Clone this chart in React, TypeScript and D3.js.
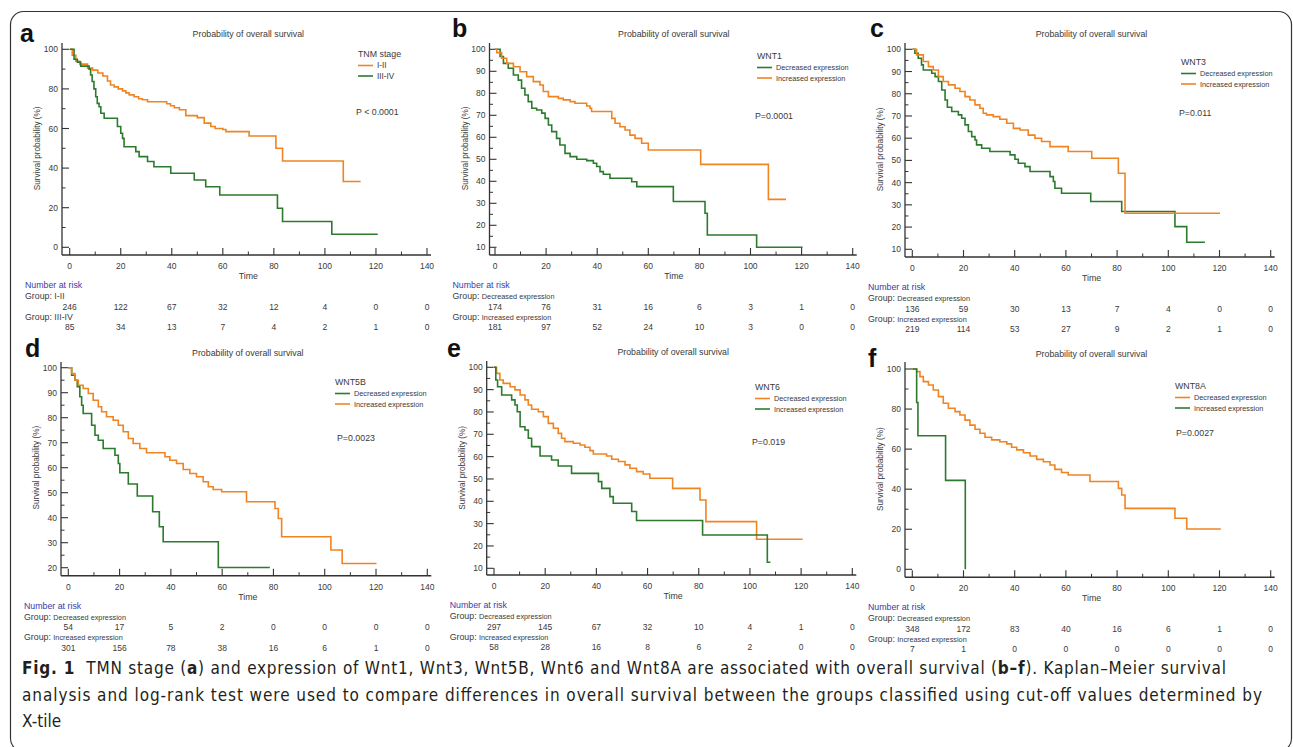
import React, { useEffect, useRef } from "react";
import * as d3 from "d3";

type Pt = [number, number];

const ORANGE = "#f08423";
const GREEN = "#2c7a2e";

const timeTicks = [0, 20, 40, 60, 80, 100, 120, 140];

// a - TNM stage
const tnmI_II: Pt[] = [[0,100],[1,97],[2.4,94],[4,92.5],[7,90.5],[9,89.5],[11,88],[13,86.5],[14.8,84],[16,82],[17.4,81],[19,80],[20.7,79],[22,78],[23.3,77],[25.2,76],[27,75],[28.5,74.5],[30.5,73.5],[38,72.5],[39.5,71.5],[41,70.5],[43,69.5],[45.5,66.5],[50,65.5],[52.7,62.7],[55.3,61],[57,60],[60,59.5],[61.2,58.4],[70.3,56.2],[80.8,50],[83.4,43.6],[107.2,33.2],[114,33.2]];
const tnmIII_IV: Pt[] = [[0,100],[1.7,95],[3,93.5],[4.3,91.5],[7.6,90],[8.2,87],[8.8,83.7],[9.5,80],[10.2,76],[10.8,72.7],[11.5,71],[12.2,67.7],[13.5,65.2],[18.7,61],[20,57.6],[20.7,55],[21.3,50.8],[25.9,48.3],[27.2,45.8],[30.5,43.3],[33,40.7],[39.6,37.4],[48.8,34],[53.3,30.6],[58.8,26.4],[81.4,19.7],[83.4,13],[102.7,6.6],[120.7,6.6]];
const riskTnmI_II = [246, 122, 67, 32, 12, 4, 0, 0];
const riskTnmIII_IV = [85, 34, 13, 7, 4, 2, 1, 0];

// b - WNT1
const wnt1Dec: Pt[] = [[0,100],[2,96.7],[3.3,93.6],[5.2,91.4],[7.2,88.3],[9.1,86],[10.4,82.3],[11.7,79.2],[13,76.2],[14.4,73.2],[16.3,72.4],[18.3,71],[19.6,68.6],[20.9,65.6],[22.2,62.6],[24.1,59.5],[25.4,56.5],[27.4,52.7],[29.4,51.2],[32,50],[35.9,49.4],[38.5,48.2],[39.8,46.7],[41.1,44.4],[42.4,43.2],[45,41.4],[53.5,39.8],[55.5,37.6],[69.8,30.8],[82.2,25.5],[83.1,15.6],[102.4,10],[120.4,10]];
const wnt1Inc: Pt[] = [[0,100],[0.7,98.5],[2.6,95.9],[4.6,93.6],[7.2,92.1],[9.8,89.8],[12.4,87.6],[15,85.3],[17.6,83.8],[18.9,80.8],[20.9,78.5],[24.8,77.7],[26.7,77],[29.4,76.2],[31.3,75.5],[35.9,74.2],[37.2,73.2],[37.8,71.7],[45.7,68.6],[47,66.4],[48.9,64.8],[50.9,63.3],[52.8,61],[54.8,59.5],[57.4,57.3],[60,54.2],[80.5,47.7],[107,31.8],[113.9,31.8]];
const riskWnt1Dec = [174, 76, 31, 16, 6, 3, 1, 0];
const riskWnt1Inc = [181, 97, 52, 24, 10, 3, 0, 0];

// c - WNT3
const wnt3Dec: Pt[] = [[0,100],[1,98.2],[2.3,96],[3.6,93],[4.3,90.7],[7.6,89.2],[8.9,87.7],[10.2,85.5],[11.5,81.7],[12.8,77.2],[13.7,73.9],[15.4,72],[18,70.5],[19.3,69],[20.6,66],[21.9,63],[23.2,60.7],[24.5,59.2],[25.1,57],[27.1,55.5],[30.3,54],[38.2,52.5],[40.1,50.5],[41.4,48.7],[44,47.2],[46,45],[53.8,42.7],[55.1,40.5],[55.7,37.5],[58.3,35.2],[69.7,31.5],[81.8,27],[102.6,20.2],[107.2,13.2],[114.3,13.2]];
const wnt3Inc: Pt[] = [[0,100],[1.7,97.5],[4.3,94.5],[6.3,92.2],[8.2,90.7],[10.2,87.7],[12.1,85.5],[14.1,84],[16.7,82.5],[18.6,81],[20.6,78.7],[22.5,77.2],[24.5,75],[26.4,73.5],[27.7,71.2],[29,70.5],[31.6,69.7],[34.2,68.5],[36.9,66.7],[39.5,64.4],[42.1,63.7],[45.3,61.4],[47.9,60],[50.5,58.5],[53.8,56.2],[60.9,54],[70.1,51],[80.5,44.2],[83.1,26.2],[120.2,26.2]];
const riskWnt3Dec = [136, 59, 30, 13, 7, 4, 0, 0];
const riskWnt3Inc = [219, 114, 53, 27, 9, 2, 1, 0];

// d - WNT5B
const wnt5bDec: Pt[] = [[0,100],[1.3,97],[2.6,95],[3.5,92.4],[4.5,88.4],[5.2,85],[5.8,81.7],[9.1,77],[10.4,73],[11.7,71],[13.6,67.7],[18.2,65],[19.5,61.7],[20.1,58],[23.4,53.5],[26.9,48.7],[32.9,42.4],[35.5,36.4],[37,30.4],[58.5,20.1],[78.6,20.1]];
const wnt5bInc: Pt[] = [[0,100],[1.3,97.7],[2.6,95],[3.9,93],[5.8,91.7],[7.8,89.7],[9.7,87],[11.7,84.4],[13,82.4],[14.9,80.4],[17.5,79],[19.5,77],[21.4,74.4],[23.4,71.7],[25.3,69.7],[27.9,67.7],[30.5,66],[37.7,64.4],[39.6,63],[42.2,61.7],[44.8,59.3],[47.4,57.7],[50,56.4],[52.6,54.4],[54.6,52.4],[56.5,51.3],[59.8,50.4],[69.5,46.4],[80.6,43.7],[81.9,39.7],[83.2,32.4],[102.4,27.1],[106.8,21.7],[120.2,21.7]];
const riskWnt5bDec = [54, 17, 5, 2, 0, 0, 0, 0];
const riskWnt5bInc = [301, 156, 78, 38, 16, 6, 1, 0];

// e - WNT6
const wnt6Dec: Pt[] = [[0,100],[1,97.3],[2.3,94.3],[3.6,92.8],[6.3,91.3],[8.2,89.9],[10.2,87.6],[12.1,85.4],[13.4,83.1],[14.7,81.2],[17.3,80.1],[19.3,77.9],[21.2,74.9],[23.2,72.7],[25.1,70.4],[26.4,68.2],[27.7,66.7],[31,66],[33.6,65.2],[35.5,64.2],[37.5,62.7],[38.8,61.2],[44,60.3],[46,58.8],[48.6,57.8],[51.2,56.3],[53.1,54.8],[55.7,53.3],[58.3,52.2],[60.9,50.3],[69.8,45.8],[80.5,40.6],[82.8,30.9],[102.6,23],[120.6,23]];
const wnt6Inc: Pt[] = [[0,100],[0.7,94.3],[1.4,91.3],[3,87.6],[6.9,85.4],[8.2,83.1],[9.1,80.1],[10.2,73.4],[12.1,71.9],[13.4,68.2],[14.7,64.5],[18,60.3],[22.5,58.5],[25.1,55.8],[30.3,52.5],[40.8,48.8],[42.1,45.8],[45.3,42.1],[46.6,39.1],[53.8,35.4],[55.7,31.4],[81.5,24.9],[106.8,12.7],[108,12.7]];
const riskWnt6Dec = [297, 145, 67, 32, 10, 4, 1, 0];
const riskWnt6Inc = [58, 28, 16, 8, 6, 2, 0, 0];

// f - WNT8A
const wnt8aDec: Pt[] = [[0,100],[1.7,98.7],[3,96.2],[4.3,93.7],[6.3,92],[8.2,89.5],[10.2,86.2],[12.1,82.9],[14.1,80.4],[16.7,78.7],[18.6,77],[20.6,74.5],[22.5,72],[24.5,69.9],[26.4,67.9],[28.4,65.9],[31,64.6],[34.2,63.7],[36.9,62.6],[38.8,60.9],[40.8,59.6],[43.4,58.2],[46,56.6],[48.6,54.9],[51.2,53.7],[53.8,52.1],[55.7,49.9],[58.3,48.3],[60.9,47.1],[69.4,43.8],[80.5,40.4],[81.8,37.1],[83.1,30.4],[102.6,25.5],[107.2,20.1],[120.5,20.1]];
const wnt8aInc: Pt[] = [[0,100],[1.7,83.3],[2.2,66.7],[13,44.4],[20.7,0]];
const riskWnt8aDec = [348, 172, 83, 40, 16, 6, 1, 0];
const riskWnt8aInc = [7, 1, 0, 0, 0, 0, 0, 0];

const DEC = "Decreased expression";
const INC = "Increased expression";

// where each panel sits on the page
const layouts: any = {
  a: { yAxisX: 62, x0: 69.7, x1: 427, yTop: 49.3, yBot: 247.3, xAxisY: 255, axisTop: 43, letterX: 20, letterY: 42, legendX: 358, legendY: 54, pX: 356, pY: 112 },
  b: { yAxisX: 489.5, x0: 495, x1: 852.7, yTop: 49.3, yBot: 247.3, xAxisY: 255, axisTop: 43, letterX: 452, letterY: 37, legendX: 757, legendY: 56, pX: 755, pY: 116 },
  c: { yAxisX: 905, x0: 912.3, x1: 1270.7, yTop: 49.3, yBot: 249.3, xAxisY: 257, axisTop: 43, letterX: 870, letterY: 37, legendX: 1181, legendY: 62, pX: 1179, pY: 113 },
  d: { yAxisX: 61, x0: 68.3, x1: 427.3, yTop: 367.7, yBot: 567.7, xAxisY: 575.7, axisTop: 362, letterX: 25, letterY: 357, legendX: 335, legendY: 382, pX: 337, pY: 438 },
  e: { yAxisX: 486.7, x0: 494, x1: 852.3, yTop: 367.3, yBot: 568.3, xAxisY: 575, axisTop: 361, letterX: 447, letterY: 357, legendX: 755, legendY: 387, pX: 752, pY: 442 },
  f: { yAxisX: 905, x0: 912.3, x1: 1270.7, yTop: 369, yBot: 569.3, xAxisY: 577.3, axisTop: 362, letterX: 868, letterY: 367, legendX: 1175, legendY: 386, pX: 1176, pY: 433 },
};

const panels = [
  { key: "a", legendTitle: "TNM stage", pText: "P < 0.0001", yDomain: [0, 100], yStep: 20, smallGroup: false,
    series: [{ name: "I-II", color: ORANGE, pts: tnmI_II }, { name: "III-IV", color: GREEN, pts: tnmIII_IV }],
    groups: [{ name: "I-II", risk: riskTnmI_II }, { name: "III-IV", risk: riskTnmIII_IV }] },
  { key: "b", legendTitle: "WNT1", pText: "P=0.0001", yDomain: [10, 100], yStep: 10, smallGroup: true,
    series: [{ name: DEC, color: GREEN, pts: wnt1Dec }, { name: INC, color: ORANGE, pts: wnt1Inc }],
    groups: [{ name: DEC, risk: riskWnt1Dec }, { name: INC, risk: riskWnt1Inc }] },
  { key: "c", legendTitle: "WNT3", pText: "P=0.011", yDomain: [10, 100], yStep: 10, smallGroup: true,
    series: [{ name: DEC, color: GREEN, pts: wnt3Dec }, { name: INC, color: ORANGE, pts: wnt3Inc }],
    groups: [{ name: DEC, risk: riskWnt3Dec }, { name: INC, risk: riskWnt3Inc }] },
  { key: "d", legendTitle: "WNT5B", pText: "P=0.0023", yDomain: [20, 100], yStep: 10, smallGroup: true,
    series: [{ name: DEC, color: GREEN, pts: wnt5bDec }, { name: INC, color: ORANGE, pts: wnt5bInc }],
    groups: [{ name: DEC, risk: riskWnt5bDec }, { name: INC, risk: riskWnt5bInc }] },
  { key: "e", legendTitle: "WNT6", pText: "P=0.019", yDomain: [10, 100], yStep: 10, smallGroup: true,
    series: [{ name: DEC, color: ORANGE, pts: wnt6Dec }, { name: INC, color: GREEN, pts: wnt6Inc }],
    groups: [{ name: DEC, risk: riskWnt6Dec }, { name: INC, risk: riskWnt6Inc }] },
  { key: "f", legendTitle: "WNT8A", pText: "P=0.0027", yDomain: [0, 100], yStep: 20, smallGroup: true,
    series: [{ name: DEC, color: ORANGE, pts: wnt8aDec }, { name: INC, color: GREEN, pts: wnt8aInc }],
    groups: [{ name: DEC, risk: riskWnt8aDec }, { name: INC, risk: riskWnt8aInc }] },
];

const captionLines = [
  [["Fig. 1", true], ["  TMN stage (", false], ["a", true], [") and expression of Wnt1, Wnt3, Wnt5B, Wnt6 and Wnt8A are associated with overall survival (", false], ["b–f", true], ["). Kaplan–Meier survival", false]],
  [["analysis and log-rank test were used to compare differences in overall survival between the groups classified using cut-off values determined by", false]],
  [["X-tile", false]],
];

const FONT = "'Liberation Sans', Arial, sans-serif";
const CAP_FONT = "'DejaVu Sans Condensed', 'DejaVu Sans', sans-serif";
const TXT = "#3a3a3a";

function drawPanel(svg: any, p: any) {
  const L = layouts[p.key];
  const x = d3.scaleLinear().domain([0, 140]).range([L.x0, L.x1]);
  const y = d3.scaleLinear().domain(p.yDomain).range([L.yBot, L.yTop]);
  const g = svg.append("g").style("font-family", FONT);

  // axis lines
  g.append("line").attr("x1", L.yAxisX).attr("x2", L.yAxisX).attr("y1", L.axisTop).attr("y2", L.xAxisY)
    .attr("stroke", "#333").attr("stroke-width", 1.3);
  g.append("line").attr("x1", L.yAxisX).attr("x2", L.x1 + 4).attr("y1", L.xAxisY).attr("y2", L.xAxisY)
    .attr("stroke", "#333").attr("stroke-width", 1.6);

  // x ticks (inward)
  g.selectAll(".xmaj").data(timeTicks).join("line")
    .attr("x1", (d: number) => x(d)).attr("x2", (d: number) => x(d))
    .attr("y1", L.xAxisY).attr("y2", L.xAxisY - 7).attr("stroke", "#333").attr("stroke-width", 1.1);
  g.selectAll(".xmin").data(d3.range(10, 140, 20)).join("line")
    .attr("x1", (d: number) => x(d)).attr("x2", (d: number) => x(d))
    .attr("y1", L.xAxisY).attr("y2", L.xAxisY - 3.5).attr("stroke", "#333").attr("stroke-width", 1);
  g.selectAll(".xlab").data(timeTicks).join("text")
    .attr("x", (d: number) => x(d)).attr("y", L.xAxisY + 14).attr("text-anchor", "middle")
    .attr("font-size", 8.5).attr("fill", TXT).text((d: number) => d);

  // y ticks
  const [y0, y1] = p.yDomain;
  const yMaj = d3.range(y0, y1 + 0.1, p.yStep);
  const yMin = d3.range(y0 + p.yStep / 2, y1, p.yStep);
  g.selectAll(".ymaj").data(yMaj).join("line")
    .attr("x1", L.yAxisX).attr("x2", L.yAxisX + 7).attr("y1", (d: number) => y(d)).attr("y2", (d: number) => y(d))
    .attr("stroke", "#333").attr("stroke-width", 1.1);
  g.selectAll(".ymin").data(yMin).join("line")
    .attr("x1", L.yAxisX).attr("x2", L.yAxisX + 3.5).attr("y1", (d: number) => y(d)).attr("y2", (d: number) => y(d))
    .attr("stroke", "#333").attr("stroke-width", 1);
  g.selectAll(".ylab").data(yMaj).join("text")
    .attr("x", L.yAxisX - 4).attr("y", (d: number) => y(d) + 3).attr("text-anchor", "end")
    .attr("font-size", 8.5).attr("fill", TXT).text((d: number) => d);

  // titles
  g.append("text").attr("x", (L.x0 + L.x1) / 2).attr("y", L.yTop - 12).attr("text-anchor", "middle")
    .attr("font-size", 8.8).attr("fill", TXT).text("Probability of overall survival");
  g.append("text").attr("x", (L.x0 + L.x1) / 2).attr("y", L.xAxisY + 24).attr("text-anchor", "middle")
    .attr("font-size", 8.8).attr("fill", TXT).text("Time");
  const ymid = (L.yTop + L.yBot) / 2;
  g.append("text").attr("transform", `translate(${L.yAxisX - 22},${ymid}) rotate(-90)`).attr("text-anchor", "middle")
    .attr("font-size", 8.2).attr("fill", TXT).text("Survival probability (%)");
  g.append("text").attr("x", L.letterX).attr("y", L.letterY).attr("font-size", 25).attr("font-weight", "bold")
    .attr("fill", "#111").text(p.key);

  // curves
  const line = d3.line<Pt>().x((d) => x(d[0])).y((d) => y(d[1])).curve(d3.curveStepAfter);
  p.series.forEach((s: any) => {
    g.append("path").attr("d", line(s.pts)).attr("fill", "none").attr("stroke", s.color).attr("stroke-width", 1.6);
  });

  // legend
  g.append("text").attr("x", L.legendX).attr("y", L.legendY + 3).attr("font-size", 8.8).attr("fill", TXT).text(p.legendTitle);
  p.series.forEach((s: any, i: number) => {
    const ly = L.legendY + 11.5 + i * 10.5;
    g.append("line").attr("x1", L.legendX).attr("x2", L.legendX + 15).attr("y1", ly).attr("y2", ly)
      .attr("stroke", s.color).attr("stroke-width", 1.6);
    g.append("text").attr("x", L.legendX + 19).attr("y", ly + 2.6).attr("font-size", p.smallGroup ? 7.3 : 8.2)
      .attr("fill", TXT).text(s.name);
  });
  g.append("text").attr("x", L.pX).attr("y", L.pY + 3).attr("font-size", 8.8).attr("fill", TXT).text(p.pText);

  // number at risk
  const nx = L.yAxisX - 37;
  g.append("text").attr("x", nx).attr("y", L.xAxisY + 33).attr("font-size", 8.8).attr("fill", "#3b3ba8").text("Number at risk");
  p.groups.forEach((gr: any, i: number) => {
    const gy = L.xAxisY + 44 + i * 20.5;
    const t = g.append("text").attr("x", nx).attr("y", gy).attr("font-size", 8.8).attr("fill", TXT);
    t.append("tspan").text("Group: ");
    t.append("tspan").attr("font-size", p.smallGroup ? 7.3 : 8.8).text(gr.name);
    g.selectAll(null).data(gr.risk).join("text")
      .attr("x", (_d: number, j: number) => x(timeTicks[j])).attr("y", gy + 10.5).attr("text-anchor", "middle")
      .attr("font-size", 8.5).attr("fill", TXT).text((d: number) => d);
  });
}

export default function App() {
  const ref = useRef<SVGSVGElement>(null);

  useEffect(() => {
    const svg = d3.select(ref.current);
    svg.selectAll("*").remove();
    svg.append("rect").attr("width", 1293).attr("height", 747).attr("fill", "#fff");
    svg.append("rect").attr("x", 10.5).attr("y", 11.5).attr("width", 1281).attr("height", 740).attr("rx", 13)
      .attr("fill", "none").attr("stroke", "#333").attr("stroke-width", 1.2);

    panels.forEach((p) => drawPanel(svg, p));

    const capY = [674, 701, 727];
    const capLen = [1204, 1240, 0];
    captionLines.forEach((parts, i) => {
      const t = svg.append("text").attr("x", 22).attr("y", capY[i]).attr("font-size", 17)
        .attr("font-family", CAP_FONT).style("font-stretch", "condensed")
        .attr("fill", "#231f20").style("white-space", "pre");
      if (capLen[i]) t.attr("textLength", capLen[i]).attr("lengthAdjust", "spacing");
      parts.forEach(([s, b]: any) => {
        t.append("tspan").attr("font-weight", b ? "bold" : "normal").text(s);
      });
    });
  }, []);

  return (
    <svg ref={ref} width={1293} height={747} style={{ position: "absolute", left: 0, top: 0, display: "block" }} />
  );
}
